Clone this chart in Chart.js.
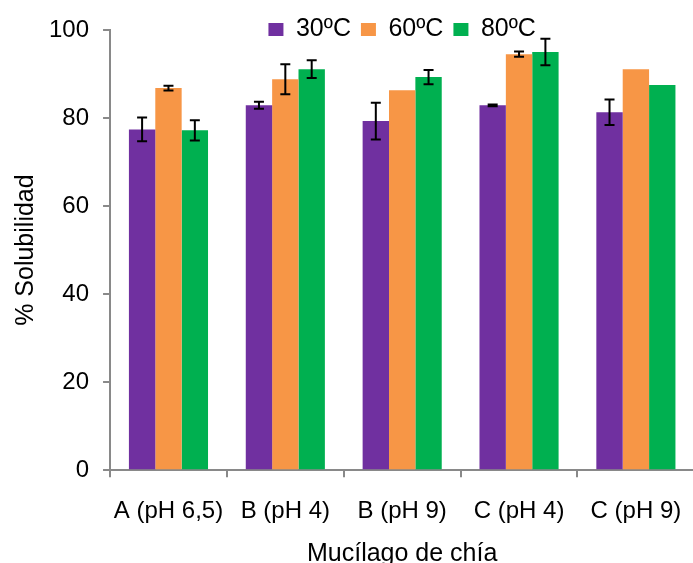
<!DOCTYPE html>
<html>
<head>
<meta charset="utf-8">
<script src="https://cdn.jsdelivr.net/npm/chart.js@4/dist/chart.umd.min.js"></script>
<style>
  html, body { margin: 0; padding: 0; background: #fff; overflow: hidden; }
  #wrap { width: 693px; height: 563px; overflow: hidden; position: relative; }
  canvas { display: block; }
</style>
</head>
<body>
<div id="wrap"><canvas id="solubChart" width="702" height="575"></canvas></div>
<script>
const categorias = ['A (pH 6,5)', 'B (pH 4)', 'B (pH 9)', 'C (pH 4)', 'C (pH 9)'];
const temp30 = [77.4, 82.9, 79.3, 82.9, 81.3];
const temp60 = [86.8, 88.8, 86.3, 94.5, 91.1];
const temp80 = [77.2, 91.1, 89.3, 95.0, 87.5];
const err30 = [2.7, 0.8, 4.2, 0.2, 2.9];
const err60 = [0.55, 3.4, 0, 0.6, 0];
const err80 = [2.3, 2.0, 1.6, 3.0, 0];
const ticksY = [0, 20, 40, 60, 80, 100];

const fuente = 'Liberation Sans, Arial, sans-serif';
const gris = '#898989';

const barrasError = {
    id: 'barrasError',
    beforeLayout(chart) {
        // la leyenda se superpone al area del grafico, como en el original
        const leg = chart.legend;
        if (leg && !leg._fitCorto) {
            const fitOrig = leg.fit;
            leg.fit = function () { fitOrig.call(this); this.height = 26; };
            leg._fitCorto = true;
        }
    },
    afterLayout(chart) {
        // bajar un poco la leyenda y agrandar su caja para que no se recorte
        const leg = chart.legend;
        leg.top += 3;
        leg.height = 45;
        leg.bottom = leg.top + 45;
    },
    afterDatasetsDraw(chart) {
        const ctx = chart.ctx;
        const y = chart.scales.y;
        const errores = [err30, err60, err80];
        ctx.save();
        ctx.strokeStyle = '#000';
        ctx.lineWidth = 2;
        chart.data.datasets.forEach((ds, i) => {
            const meta = chart.getDatasetMeta(i);
            meta.data.forEach((bar, j) => {
                const e = errores[i][j];
                if (!e) return;
                const top = y.getPixelForValue(ds.data[j] + e);
                const bot = y.getPixelForValue(ds.data[j] - e);
                ctx.beginPath();
                ctx.moveTo(bar.x, top); ctx.lineTo(bar.x, bot);
                ctx.moveTo(bar.x - 5, top); ctx.lineTo(bar.x + 5, top);
                ctx.moveTo(bar.x - 5, bot); ctx.lineTo(bar.x + 5, bot);
                ctx.stroke();
            });
        });
        ctx.restore();
    }
};

const ctx = document.getElementById('solubChart').getContext('2d');
new Chart(ctx, {
    type: 'bar',
    data: {
        labels: categorias,
        datasets: [
            { label: '30ºC', data: temp30, backgroundColor: '#7030A0' },
            { label: '60ºC', data: temp60, backgroundColor: '#F79646' },
            { label: '80ºC', data: temp80, backgroundColor: '#00B050' }
        ]
    },
    options: {
        responsive: false,
        animation: false,
        layout: { padding: { top: 4, left: 9, right: 0, bottom: 0 } },
        datasets: { bar: { categoryPercentage: 0.677, barPercentage: 1.0 } },
        plugins: {
            legend: {
                display: true,
                position: 'top',
                fullSize: false,
                labels: {
                    boxWidth: 15,
                    boxHeight: 13,
                    padding: 10,
                    color: '#000',
                    font: { family: fuente, size: 25 }
                }
            },
            tooltip: { enabled: false }
        },
        scales: {
            x: {
                grid: { display: true, drawOnChartArea: false, drawTicks: true, tickLength: 7, color: gris, lineWidth: 2 },
                border: { color: gris, width: 2 },
                ticks: { color: '#000', padding: 20, font: { family: fuente, size: 24 }, maxRotation: 0 },
                title: { display: true, text: 'Mucílago de chía', color: '#000', font: { family: fuente, size: 25 }, padding: { top: -7, bottom: 6 } }
            },
            y: {
                min: 0,
                max: 100,
                afterBuildTicks: (scale) => { scale.ticks = ticksY.map(v => ({ value: v })); },
                grid: { display: true, drawOnChartArea: false, drawTicks: true, tickLength: 7, color: gris, lineWidth: 2 },
                border: { color: gris, width: 2 },
                ticks: { color: '#000', padding: 14, font: { family: fuente, size: 24 } },
                title: { display: true, text: '% Solubilidad', color: '#000', font: { family: fuente, size: 25 }, padding: { top: 2, bottom: -6 } }
            }
        }
    },
    plugins: [barrasError]
});
</script>
</body>
</html>
